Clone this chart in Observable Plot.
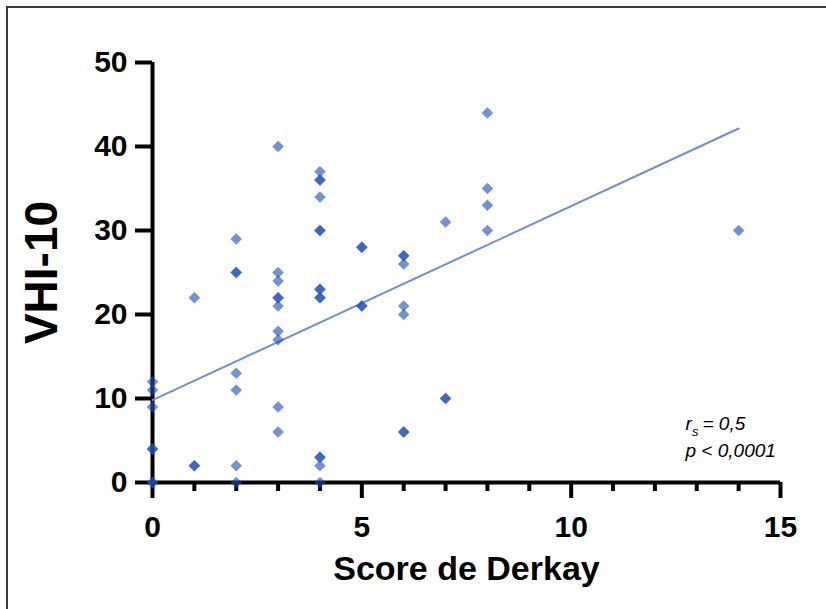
<!DOCTYPE html>
<html>
<head>
<meta charset="utf-8">
<script src="https://cdn.jsdelivr.net/npm/d3@7"></script>
<script src="https://cdn.jsdelivr.net/npm/@observablehq/plot@0.6"></script>
<style>
  html, body { margin: 0; padding: 0; background: #fff; }
  #wrap { position: relative; width: 826px; height: 609px; overflow: hidden; }
  #border { position: absolute; left: 6px; top: 6px; width: 900px; height: 700px;
            border-top: 2px solid #3a3a3a; border-left: 2px solid #3a3a3a; pointer-events: none; }
  #chart svg { display: block; }
</style>
</head>
<body>
<div id="wrap">
  <div id="chart"></div>
  <div id="border"></div>
</div>
<script>
// Score de Derkay (x) and VHI-10 (y), one entry per patient (overlapping points repeated)
const derkay = [
  0, 0, 0, 0, 0, 0, 0,
  1, 1, 1,
  2, 2, 2, 2, 2, 2, 2,
  3, 3, 3, 3, 3, 3, 3, 3, 3, 3,
  4, 4, 4, 4, 4, 4, 4, 4, 4, 4, 4, 4, 4, 4,
  5, 5, 5, 5,
  6, 6, 6, 6, 6, 6, 6,
  7, 7, 7,
  8, 8, 8, 8,
  14
];
const vhi10 = [
  12, 11, 9, 4, 4, 0, 0,
  22, 2, 2,
  29, 25, 25, 13, 11, 2, 0,
  40, 25, 24, 22, 22, 21, 18, 17, 9, 6,
  37, 36, 36, 34, 30, 30, 23, 23, 22, 22, 3, 3, 2, 0,
  28, 28, 21, 21,
  27, 27, 26, 21, 20, 6, 6,
  31, 10, 10,
  44, 35, 33, 30,
  30
];

// Regression line shown on the figure
const fitIntercept = 9.8;
const fitSlope = 2.31;

// Axis ticks and labels
const xMajorTicks = [0, 5, 10, 15];
const xMinorTicks = [1, 2, 3, 4, 6, 7, 8, 9, 11, 12, 13, 14];
const yTicks = [0, 10, 20, 30, 40, 50];
const xTitle = "Score de Derkay";
const yTitle = "VHI-10";
const statR = "r";
const statRSub = "s";
const statRValue = "= 0,5";
const statP = "p < 0,0001";

const points = derkay.map((x, i) => ({x, y: vhi10[i]}));
const fitLine = d3.extent(derkay).map(x => ({x, y: fitIntercept + fitSlope * x}));

const font = "'Liberation Sans', Arial, Helvetica, sans-serif";
const statStyle = {frameAnchor: "bottom-right", textAnchor: "start", fontStyle: "italic",
                   fontWeight: "normal", fontSize: 19, text: d => d};

const chart = Plot.plot({
  width: 826,
  height: 609,
  marginLeft: 152,
  marginRight: 46,
  marginTop: 62,
  marginBottom: 127,
  x: {domain: [0, 15]},
  y: {domain: [0, 50]},
  style: {fontFamily: font, fontWeight: "bold", color: "#000", background: "transparent", overflow: "visible"},
  marks: [
    Plot.axisX({ticks: xMinorTicks, tickSize: 9, strokeWidth: 4, tickFormat: () => "", label: null}),
    Plot.axisX({ticks: xMajorTicks, tickSize: 16, tickPadding: 17, strokeWidth: 4, fontSize: 30, label: null}),
    Plot.axisY({ticks: yTicks, tickSize: 17, tickPadding: 8, strokeWidth: 4, fontSize: 30, label: null}),
    Plot.ruleY([0], {strokeWidth: 4}),
    Plot.ruleX([0], {strokeWidth: 4}),
    Plot.line(fitLine, {x: "x", y: "y", stroke: "#6f8fd6", strokeWidth: 2}),
    Plot.dot(points, {x: "x", y: "y", symbol: "diamond2", r: 5.2, fill: "#1f4fb8", fillOpacity: 0.62, stroke: "none"}),
    Plot.text([xTitle], {frameAnchor: "bottom", dy: 97, fontSize: 34, text: d => d}),
    Plot.text([yTitle], {frameAnchor: "left", textAnchor: "middle", rotate: -90, dx: -110, fontSize: 46, text: d => d}),
    Plot.text([statR], {...statStyle, dx: -95, dy: -53}),
    Plot.text([statRSub], {...statStyle, fontSize: 13, dx: -88.5, dy: -47}),
    Plot.text([statRValue], {...statStyle, dx: -78, dy: -53}),
    Plot.text([statP], {...statStyle, dx: -95, dy: -26})
  ]
});
document.getElementById("chart").appendChild(chart);
</script>
</body>
</html>
